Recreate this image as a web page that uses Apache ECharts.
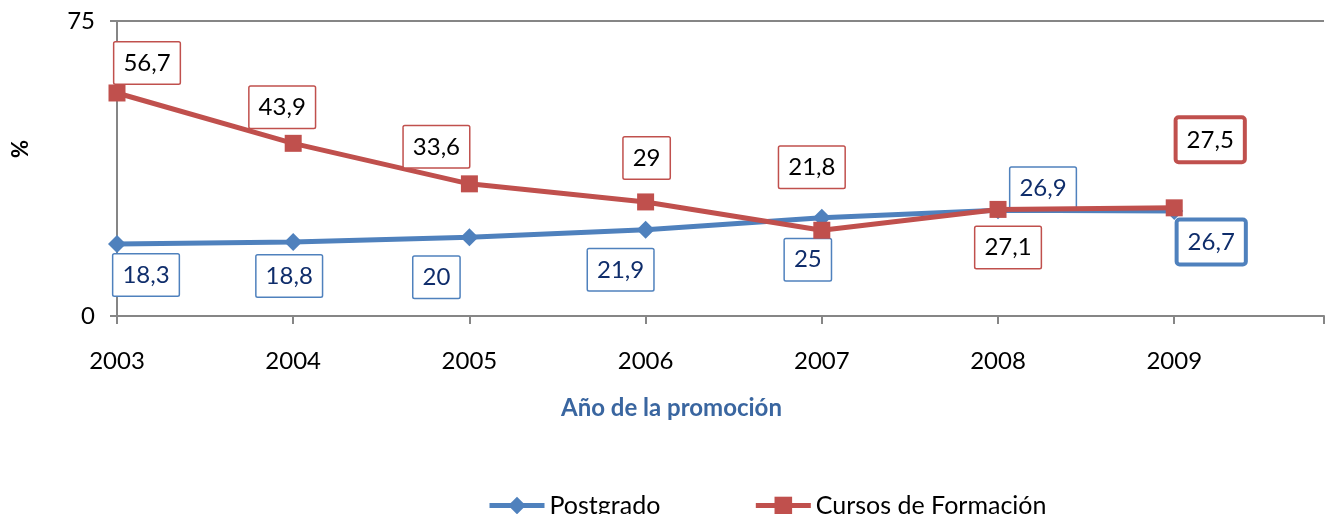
<!DOCTYPE html>
<html>
<head>
<meta charset="utf-8">
<script src="https://cdn.jsdelivr.net/npm/echarts@6/dist/echarts.min.js"></script>
<style>
  html, body { margin: 0; padding: 0; background: #fff; }
  #chart { width: 1327px; height: 514px; }
</style>
</head>
<body>
<div id="chart"></div>
<script>
// datos
const years = [2003, 2004, 2005, 2006, 2007, 2008, 2009];
const postgrado = [18.3, 18.8, 20, 21.9, 25, 26.9, 26.7];
const cursos = [56.7, 43.9, 33.6, 29, 21.8, 27.1, 27.5];
const yTicks = [0, 75];

// desplazamiento de cada etiqueta respecto a su punto (px)
const postOffsets = [[29, 31], [-4, 34], [-33, 40], [-25, 40], [-14, 42], [45, -22], [37, 31]];
const cursosOffsets = [[30, -30], [-11, -36], [-33, -37], [1, -44], [-10, -63], [10, 38], [36, -68]];

const FONT = 'Lato';
const BLUE = '#4F81BD';
const RED = '#C0504D';

const buildData = (vals, offsets, border) =>
  vals.map((v, i) => ({
    value: [years[i], v],
    label: {
      offset: offsets[i],
      // el ultimo punto lleva borde grueso
      borderWidth: i === vals.length - 1 ? 4 : 1.5,
      borderColor: border,
    },
  }));

const labelBase = (color) => ({
  show: true,
  position: 'inside',
  fontFamily: FONT,
  fontSize: 24,
  lineHeight: 24,
  color: color,
  backgroundColor: '#fff',
  borderRadius: 1,
  padding: [9, 9, 8, 9],
  formatter: (p) => String(p.value[1]).replace('.', ','),
});

const chart = echarts.init(document.getElementById('chart'));

const option = {
  animation: false,
  backgroundColor: '#fff',
  grid: {
    left: 117,
    right: 0,
    top: 21,
    bottom: 198,
  },
  legend: {
    left: 482,
    top: 488,
    itemWidth: 55,
    itemHeight: 22,
    itemGap: 93,
    lineStyle: { width: 5 },
    textStyle: { fontFamily: FONT, fontSize: 25, color: '#000' },
    data: ['Postgrado', 'Cursos de Formación'],
  },
  xAxis: {
    type: 'value',
    min: years[0],
    // el area de trazado continua mas alla del borde derecho de la imagen
    max: 2009.85,
    interval: 1,
    axisLine: { show: true, onZero: false, lineStyle: { color: '#868686', width: 2 } },
    axisTick: { show: true, length: 8, lineStyle: { color: '#868686', width: 2 } },
    splitLine: { show: false },
    axisLabel: {
      fontFamily: FONT,
      fontSize: 24,
      color: '#000',
      margin: 33,
      formatter: (v) => (years.indexOf(v) >= 0 ? String(v) : ''),
    },
  },
  yAxis: {
    type: 'value',
    min: yTicks[0],
    max: yTicks[1],
    interval: yTicks[1] - yTicks[0],
    axisLine: { show: true, lineStyle: { color: '#868686', width: 2 } },
    axisTick: { show: true, length: 7, lineStyle: { color: '#868686', width: 2 } },
    splitLine: { show: true, lineStyle: { color: '#868686', width: 2 } },
    axisLabel: {
      fontFamily: FONT,
      fontSize: 24,
      color: '#000',
      margin: 22,
    },
  },
  graphic: [
    {
      type: 'text',
      left: 561,
      top: 396,
      style: {
        text: 'Año de la promoción',
        fontFamily: FONT,
        fontSize: 24,
        fontWeight: 'bold',
        fill: '#3A66A0',
      },
    },
    {
      type: 'text',
      x: 10,
      y: 158,
      rotation: Math.PI / 2,
      style: {
        text: '%',
        fontFamily: FONT,
        fontSize: 22,
        fontWeight: 'bold',
        fill: '#000',
      },
    },
  ],
  series: [
    {
      name: 'Postgrado',
      type: 'line',
      symbol: 'diamond',
      symbolSize: 18,
      z: 2,
      lineStyle: { color: BLUE, width: 5 },
      itemStyle: { color: BLUE },
      label: labelBase('#0F2D6B'),
      data: buildData(postgrado, postOffsets, BLUE),
    },
    {
      name: 'Cursos de Formación',
      type: 'line',
      symbol: 'rect',
      symbolSize: 17,
      z: 3,
      lineStyle: { color: RED, width: 5 },
      itemStyle: { color: RED },
      label: labelBase('#000'),
      data: buildData(cursos, cursosOffsets, RED),
    },
  ],
};

chart.setOption(option);
</script>
</body>
</html>
